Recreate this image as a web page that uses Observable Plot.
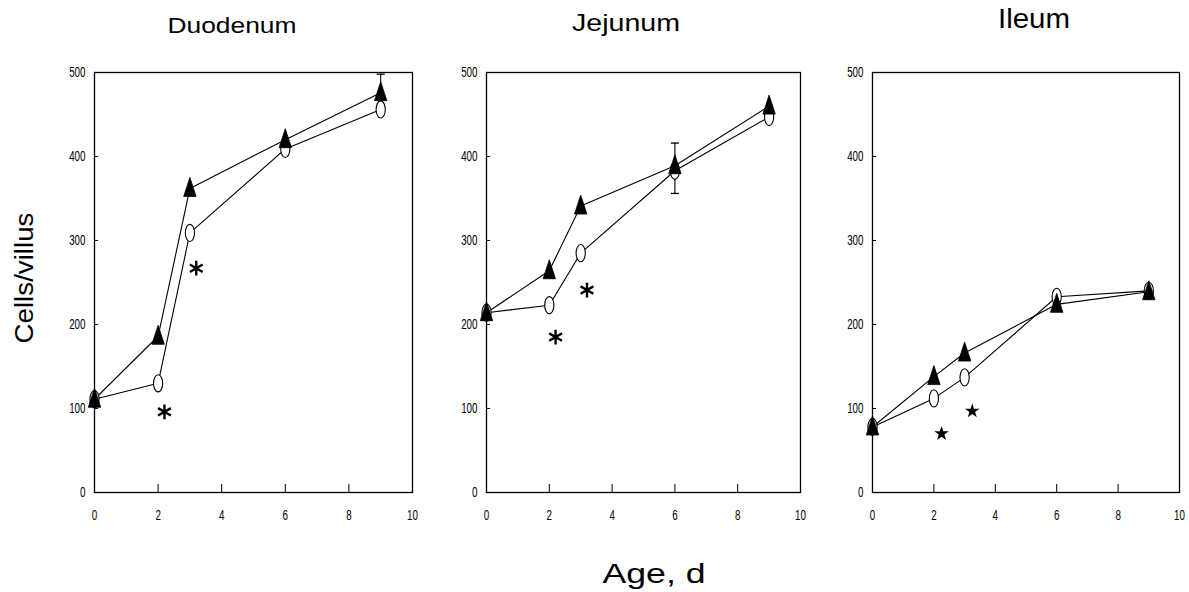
<!DOCTYPE html>
<html><head><meta charset="utf-8">
<script src="https://cdn.jsdelivr.net/npm/d3@7"></script>
<script src="https://cdn.jsdelivr.net/npm/@observablehq/plot@0.6"></script>
<style>
body{margin:0;background:#fff;}
#wrap{position:relative;width:1189px;height:592px;overflow:hidden;background:#fff;}
.panel{position:absolute;top:0;}
#overlay{position:absolute;left:0;top:0;pointer-events:none;}
</style></head><body><div id="wrap"></div>
<script>
// ---- data ----
const ages = [0, 2, 3, 6, 9];
const panelNames = ["Duodenum", "Jejunum", "Ileum"];
const triangleDuodenum = [111, 186, 362, 420, 476];
const circleDuodenum   = [111, 130, 309, 409, 456];
const triangleJejunum  = [214, 264, 341, 389, 460];
const circleJejunum    = [214, 223, 285, 383, 447];
const triangleIleum    = [78, 138, 166, 224, 239];
const circleIleum      = [78, 112, 137, 233, 240];
const errorPanel = ["Duodenum", "Jejunum"];
const errorAge   = [9, 6];
const errorLow   = [476, 356];
const errorHigh  = [498, 416];
const markPanel = ["Duodenum", "Duodenum", "Jejunum", "Jejunum", "Ileum", "Ileum"];
const markAge   = [2.2, 3.2, 2.2, 3.2, 2.25, 3.25];
const markValue = [96, 267, 185, 241, 70, 97];
const yTicks = [0, 100, 200, 300, 400, 500];
const xTicks = [0, 2, 4, 6, 8, 10];
const xLabel = "Age, d";
const yLabel = "Cells/villus";

const seriesByPanel = {
  Duodenum: {tri: triangleDuodenum, circ: circleDuodenum},
  Jejunum: {tri: triangleJejunum, circ: circleJejunum},
  Ileum: {tri: triangleIleum, circ: circleIleum}
};

// ---- layout (styles only) ----
const layout = {
  Duodenum: {left: 0, width: 420, marginLeft: 94, marginRight: 8, title: {x: 232, y: 33, size: 22, len: 129}},
  Jejunum: {left: 400, width: 410, marginLeft: 86, marginRight: 10, title: {x: 626, y: 31, size: 24, len: 108}},
  Ileum: {left: 800, width: 389, marginLeft: 72, marginRight: 10, title: {x: 1034, y: 28, size: 27, len: 72}}
};

// custom symbols
const ellipseSymbol = {draw(ctx) {
  const rx = 4.6, ry = 8.6, k = 0.5523;
  ctx.moveTo(rx, 0);
  ctx.bezierCurveTo(rx, ry * k, rx * k, ry, 0, ry);
  ctx.bezierCurveTo(-rx * k, ry, -rx, ry * k, -rx, 0);
  ctx.bezierCurveTo(-rx, -ry * k, -rx * k, -ry, 0, -ry);
  ctx.bezierCurveTo(rx * k, -ry, rx, -ry * k, rx, 0);
  ctx.closePath();
}};
const triangleSymbol = {draw(ctx) {
  ctx.moveTo(0, -11); ctx.lineTo(6.2, 8); ctx.lineTo(-6.2, 8); ctx.closePath();
}};
const capSymbol = {draw(ctx) { ctx.moveTo(-4, 0); ctx.lineTo(4, 0); }};

const wrap = document.getElementById("wrap");
const tickFont = '"Liberation Sans", Arial, sans-serif';
const charts = [];

for (const name of panelNames) {
  const L = layout[name];
  const s = seriesByPanel[name];
  const tri = ages.map((a, i) => ({age: a, value: s.tri[i]}));
  const circ = ages.map((a, i) => ({age: a, value: s.circ[i]}));
  const errs = errorPanel.map((p, i) => ({p, age: errorAge[i], lo: errorLow[i], hi: errorHigh[i]})).filter(d => d.p === name);
  const sig = markPanel.map((p, i) => ({p, age: markAge[i], value: markValue[i]})).filter(d => d.p === name);
  const chart = Plot.plot({
    width: L.width,
    height: 540,
    marginTop: 72,
    marginBottom: 48,
    marginLeft: L.marginLeft,
    marginRight: L.marginRight,
    x: {domain: [0, 10]},
    y: {domain: [0, 500]},
    style: {fontFamily: tickFont, fontSize: "14px", color: "#000", background: "transparent", overflow: "visible"},
    marks: [
      Plot.frame({stroke: "#000", strokeWidth: 1.3}),
      Plot.axisY({ticks: yTicks, tickSize: -4, tickPadding: 13, label: null}),
      Plot.axisX({ticks: xTicks, tickSize: -8, tickPadding: 26, label: null}),
      Plot.line(circ, {x: "age", y: "value", stroke: "#000", strokeWidth: 1.1}),
      Plot.line(tri, {x: "age", y: "value", stroke: "#000", strokeWidth: 1.1}),
      Plot.ruleX(errs, {x: "age", y1: "lo", y2: "hi", stroke: "#000", strokeWidth: 1.1}),
      Plot.dot(errs, {x: "age", y: "hi", symbol: capSymbol, stroke: "#000", strokeWidth: 1.3}),
      Plot.dot(errs.filter(d => d.lo < d.hi - 40), {x: "age", y: "lo", symbol: capSymbol, stroke: "#000", strokeWidth: 1.3}),
      Plot.dot(circ, {x: "age", y: "value", symbol: ellipseSymbol, fill: "#fff", stroke: "#000", strokeWidth: 1.1}),
      Plot.dot(tri, {x: "age", y: "value", symbol: triangleSymbol, fill: "#000", stroke: "#000", strokeWidth: 0.8}),
      Plot.dot(sig, name === "Ileum"
        ? {x: "age", y: "value", symbol: "star", r: 4.6, fill: "#000", stroke: "none"}
        : {x: "age", y: "value", symbol: "asterisk", r: 7, stroke: "#000", strokeWidth: 2.4})
    ]
  });
  const div = document.createElement("div");
  div.className = "panel";
  div.style.left = L.left + "px";
  div.appendChild(chart);
  wrap.appendChild(div);
  charts.push(chart);
}

// narrow (condensed) look for the tick labels, without moving them
for (const chart of charts) {
  chart.querySelectorAll('g[aria-label="x-axis tick label"] text, g[aria-label="y-axis tick label"] text').forEach(t => {
    const w = t.getComputedTextLength();
    if (w > 0) {
      t.setAttribute("textLength", (w * 0.7).toFixed(2));
      t.setAttribute("lengthAdjust", "spacingAndGlyphs");
    }
  });
}

// overlay texts: panel titles and shared axis labels
const svgNS = "http://www.w3.org/2000/svg";
const ov = document.createElementNS(svgNS, "svg");
ov.setAttribute("id", "overlay");
ov.setAttribute("width", 1189);
ov.setAttribute("height", 592);
function addText(str, x, y, size, len, rotate) {
  const t = document.createElementNS(svgNS, "text");
  t.textContent = str;
  t.setAttribute("x", x); t.setAttribute("y", y);
  t.setAttribute("text-anchor", "middle");
  t.setAttribute("font-family", '"Liberation Sans", Arial, sans-serif');
  t.setAttribute("font-size", size);
  t.setAttribute("fill", "#000");
  t.setAttribute("textLength", len);
  t.setAttribute("lengthAdjust", "spacingAndGlyphs");
  if (rotate) t.setAttribute("transform", `rotate(-90 ${x} ${y})`);
  ov.appendChild(t);
}
for (const name of panelNames) {
  const T = layout[name].title;
  addText(name, T.x, T.y, T.size, T.len, false);
}
addText(xLabel, 654, 583, 28, 103, false);
addText(yLabel, 33, 278, 26, 131, true);
wrap.appendChild(ov);
</script>
</body></html>
